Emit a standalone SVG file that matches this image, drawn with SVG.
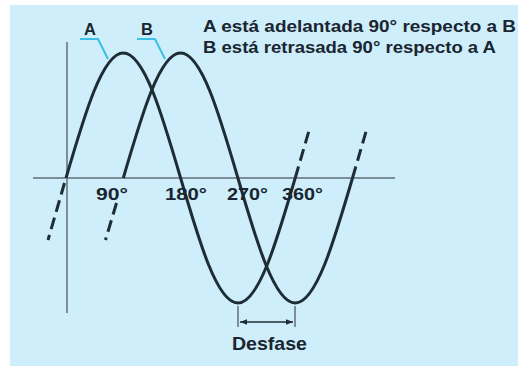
<svg xmlns="http://www.w3.org/2000/svg" width="518" height="366" viewBox="0 0 518 366">
<style>
.bg{fill:#cdeefa}
.axis{stroke:#7d8e99;stroke-width:2;fill:none}
.wave{stroke:#1e2c36;stroke-width:3;fill:none}
.dash{stroke:#1e2c36;stroke-width:3;fill:none;stroke-dasharray:12 6}
.lead{stroke:#3cbfe2;stroke-width:2;fill:none}
.tick{stroke:#7d8e99;stroke-width:2}
.dim{stroke:#1e2c36;stroke-width:1.6;fill:none}
text{font-family:"Liberation Sans",Arial,sans-serif;font-weight:bold;fill:#1a2530}
.t{font-size:16.5px}
.ax{font-size:17px}
</style>
<defs>
<marker id="ah" viewBox="0 0 10 10" refX="10" refY="5" markerWidth="7" markerHeight="7" orient="auto-start-reverse" markerUnits="userSpaceOnUse">
<path d="M0,1 L10,5 L0,9 Z" fill="#1e2c36"/>
</marker>
</defs>
<rect x="0" y="0" width="518" height="366" fill="#ffffff"/>
<rect class="bg" x="10" y="5" width="508" height="361"/>
<g id="axes">
<line class="axis" x1="33" y1="178" x2="395" y2="178"/>
<line class="axis" x1="67" y1="42" x2="67" y2="313"/>
</g>
<g id="wave-A">
<path class="wave" d="M66,178 C84.69,113.96 102.56,53 123.3,53 C144.04,53 161.91,113.96 180.6,178 C199.29,241.96 217.16,303 237.9,303 C258.64,303 276.51,241.96 295.2,178"/>
<line class="dash" x1="64.5" y1="183" x2="48" y2="240"/>
<line class="dash" x1="295.2" y1="178" x2="309.5" y2="129"/>
</g>
<g id="wave-B">
<path class="wave" d="M123.3,178 C141.99,113.96 159.86,53 180.6,53 C201.34,53 219.21,113.96 237.9,178 C256.59,241.96 274.46,303 295.2,303 C315.94,303 333.81,241.96 352.5,178"/>
<line class="dash" x1="116.5" y1="203" x2="105.5" y2="240"/>
<line class="dash" x1="352.5" y1="178" x2="366.5" y2="130"/>
</g>
<g id="connectors">
<polyline class="lead" points="80,39 98,39 108,59"/>
<polyline class="lead" points="137,39 155,39 165,59"/>
</g>
<g id="label-A"><text class="t" x="84" y="35">A</text></g>
<g id="label-B"><text class="t" x="141" y="35">B</text></g>
<g id="caption">
<text class="t" x="203" y="32" textLength="313" lengthAdjust="spacingAndGlyphs">A está adelantada 90° respecto a B</text>
<text class="t" x="203" y="53" textLength="293" lengthAdjust="spacingAndGlyphs">B está retrasada 90° respecto a A</text>
</g>
<g id="axis-labels">
<text class="ax" x="96" y="200" textLength="32" lengthAdjust="spacingAndGlyphs">90°</text>
<text class="ax" x="165" y="200" textLength="42" lengthAdjust="spacingAndGlyphs">180°</text>
<text class="ax" x="227" y="200" textLength="41" lengthAdjust="spacingAndGlyphs">270°</text>
<text class="ax" x="282" y="200" textLength="41" lengthAdjust="spacingAndGlyphs">360°</text>
</g>
<g id="desfase">
<line class="tick" x1="238" y1="306" x2="238" y2="327"/>
<line class="tick" x1="295" y1="306" x2="295" y2="327"/>
<line class="dim" x1="240" y1="322" x2="293" y2="322" marker-start="url(#ah)" marker-end="url(#ah)"/>
<text x="232" y="350" font-size="19" textLength="75" lengthAdjust="spacingAndGlyphs">Desfase</text>
</g>
</svg>
